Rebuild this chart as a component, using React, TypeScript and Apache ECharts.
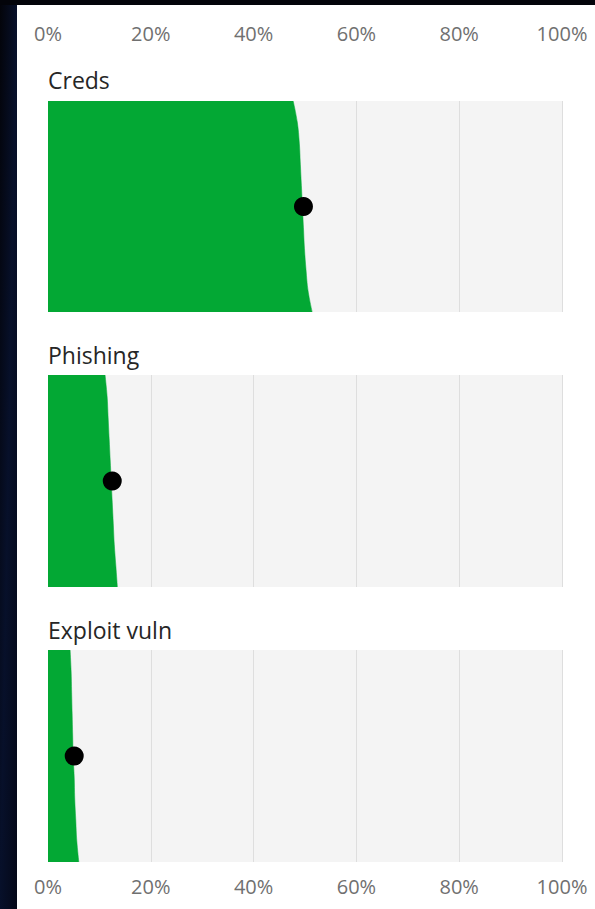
import React, { useEffect, useRef } from "react";
import * as echarts from "echarts";

// ---- data ----
const categories = ["Creds", "Phishing", "Exploit vuln"];
const xTicks = [0, 20, 40, 60, 80, 100];
// quantile levels, bottom (0) to top (1)
const levels = ["0", "0.1", "0.2", "0.3", "0.4", "0.5", "0.6", "0.7", "0.8", "0.9", "1"];
const credsEdge = [51.4, 50.6, 50.2, 49.9, 49.7, 49.5, 49.3, 49.1, 48.9, 48.5, 47.7];
const phishingEdge = [13.5, 13.2, 12.9, 12.7, 12.5, 12.3, 12.1, 11.9, 11.7, 11.5, 11.1];
const exploitEdge = [6.0, 5.6, 5.4, 5.2, 5.1, 4.9, 4.8, 4.7, 4.6, 4.5, 4.3];
const medians = [49.7, 12.5, 5.1];
const medianLevel = "0.5";

const edges = [credsEdge, phishingEdge, exploitEdge];

const FONT = "'Open Sans', 'Liberation Sans', sans-serif";
const GREEN = "#03a834";

export default function App() {
  const ref = useRef<HTMLDivElement>(null);
  useEffect(() => {
    document.body.style.margin = "0";
    if (!ref.current) return;
    const chart = echarts.init(ref.current, undefined, { renderer: "svg" });

    const left = 48;
    const width = 514;
    const tops = [101, 375, 650];
    const heights = [211, 212, 212];
    const titleY = [80, 355, 630];

    const grids = tops.map((t, i) => ({
      left,
      width,
      top: t,
      height: heights[i],
      show: true,
      backgroundColor: "#f4f4f4",
      borderWidth: 0,
      containLabel: false,
    }));

    const xAxes = tops.map((_, i) => ({
      type: "value",
      gridIndex: i,
      min: 0,
      max: 100,
      interval: 20,
      position: i === 0 ? "top" : "bottom",
      axisLine: { show: false },
      axisTick: { show: false },
      axisLabel: {
        show: i === 0 || i === 2,
        formatter: (v: number) => (xTicks.includes(v) ? `${v}%` : ""),
        color: "#707070",
        fontSize: 20,
        fontFamily: FONT,
        verticalAlign: "middle",
        margin: i === 0 ? 68 : 24,
      },
      splitLine: {
        show: true,
        lineStyle: { color: "#dedede", width: 1 },
      },
    }));

    const yAxes = tops.map((_, i) => ({
      type: "category",
      gridIndex: i,
      data: levels,
      boundaryGap: false,
      show: false,
    }));

    const series: any[] = [];
    edges.forEach((edge, i) => {
      series.push({
        type: "line",
        name: categories[i],
        xAxisIndex: i,
        yAxisIndex: i,
        data: edge.map((v, k) => [v, levels[k]]),
        smooth: 0.4,
        showSymbol: false,
        symbol: "none",
        lineStyle: { width: 0.5, color: GREEN },
        areaStyle: { color: GREEN, opacity: 1, origin: "start" },
        z: 2,
      });
      series.push({
        type: "scatter",
        name: categories[i] + " median",
        xAxisIndex: i,
        yAxisIndex: i,
        data: [[medians[i], medianLevel]],
        symbolSize: 19,
        itemStyle: { color: "#000000", opacity: 1 },
        z: 5,
      });
    });

    const graphic: any[] = [
      {
        type: "rect",
        shape: { x: 0, y: 0, width: 17, height: 909 },
        style: {
          fill: new echarts.graphic.LinearGradient(0, 0, 1, 1, [
            { offset: 0, color: "#03040a" },
            { offset: 0.5, color: "#07102a" },
            { offset: 1, color: "#040818" },
          ]),
        },
        silent: true,
      },
      {
        type: "rect",
        shape: { x: 0, y: 0, width: 595, height: 5 },
        style: { fill: "#03040a" },
        silent: true,
      },
      ...categories.map((c, i) => ({
        type: "text",
        x: left,
        y: titleY[i],
        style: {
          text: c,
          fontSize: 23,
          fontFamily: FONT,
          fill: "#262626",
          verticalAlign: "middle",
          align: "left",
        },
        silent: true,
      })),
    ];

    chart.setOption({
      animation: false,
      backgroundColor: "#ffffff",
      grid: grids,
      xAxis: xAxes,
      yAxis: yAxes,
      series,
      graphic,
    });

    return () => chart.dispose();
  }, []);

  return <div ref={ref} style={{ width: 595, height: 909 }} />;
}
